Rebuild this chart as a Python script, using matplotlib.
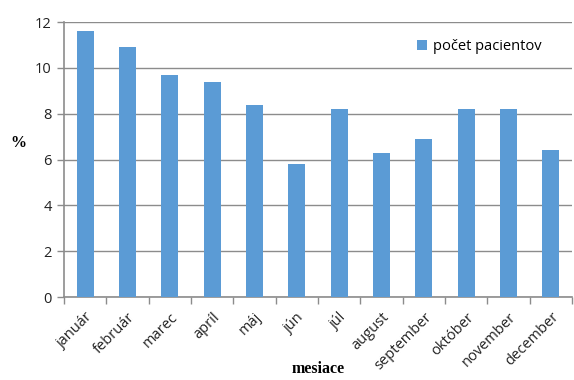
import matplotlib
matplotlib.use("Agg")
import matplotlib.pyplot as plt
import numpy as np

months = ["január", "február", "marec", "apríl", "máj", "jún", "júl",
          "august", "september", "október", "november", "december"]
values = [11.6, 10.9, 9.7, 9.4, 8.4, 5.8, 8.2, 6.3, 6.9, 8.2, 8.2, 6.4]
yticks = [0, 2, 4, 6, 8, 10, 12]

bar_color = "#5B9BD5"
axis_color = "#8C8C8C"

fig = plt.figure(figsize=(5.74, 3.8), dpi=100)
ax = fig.add_axes([0.1115, 0.218, 0.885, 0.724])

x = np.arange(len(months))
ax.bar(x, values, width=0.4, color=bar_color, label="počet pacientov", zorder=3)

ax.set_xlim(-0.5, len(months) - 0.5)
ax.set_ylim(0, 12)
ax.set_yticks(yticks)
ax.set_yticklabels([str(v) for v in yticks], fontsize=10.5, family="Open Sans", color="#222222")
ax.yaxis.grid(True, color=axis_color, linewidth=1.0, zorder=0)
ax.set_axisbelow(True)

# category labels centred under bars, tick marks at category boundaries
ax.set_xticks(x)
ax.set_xticklabels(months, rotation=45, ha="right", rotation_mode="anchor",
                   fontsize=10.5, family="Open Sans", color="#222222")
ax.tick_params(axis="x", length=0, pad=9)
ax.set_xticks(np.arange(-0.5, len(months) + 0.5, 1), minor=True)
ax.tick_params(axis="x", which="minor", length=5, color=axis_color, width=1)
ax.tick_params(axis="y", length=5, color=axis_color, width=1, pad=4)

for s in ["top", "right"]:
    ax.spines[s].set_visible(False)
for s in ["left", "bottom"]:
    ax.spines[s].set_color(axis_color)
    ax.spines[s].set_linewidth(1.2)

ax.set_xlabel("mesiace", fontsize=11.5, fontweight="bold", family="Liberation Serif", va="center")
ax.xaxis.set_label_coords(0.5, -0.262)
ax.set_ylabel("%", fontsize=11.5, fontweight="bold", family="Liberation Serif",
              rotation=0, va="center")
ax.yaxis.set_label_coords(-0.09, 0.56)

leg = ax.legend(loc="upper right", bbox_to_anchor=(0.965, 0.985), frameon=False,
                prop={"family": "Open Sans", "size": 10.5}, handlelength=0.7,
                handleheight=0.7, handletextpad=0.4)

fig.savefig("out.png", dpi=100)
